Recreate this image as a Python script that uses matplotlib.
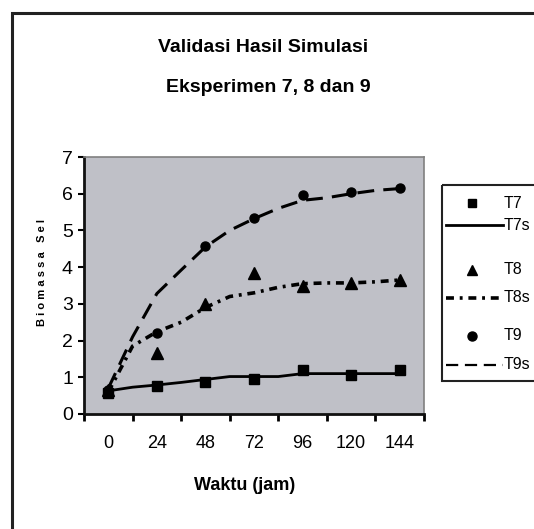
import matplotlib
matplotlib.use("Agg")
import matplotlib.pyplot as plt
from matplotlib.patches import Rectangle

FONT = "Liberation Sans"

# ---- data ----
hours_obs = [0, 24, 48, 72, 96, 120, 144]
hours_sim = [0, 12, 24, 36, 48, 60, 72, 84, 96, 108, 120, 132, 144]
t7 = [0.58, 0.77, 0.86, 0.95, 1.2, 1.05, 1.2]
t7s = [0.63, 0.73, 0.79, 0.86, 0.94, 1.02, 1.02, 1.02, 1.1, 1.1, 1.1, 1.1, 1.1]
t8 = [0.65, 1.65, 3.0, 3.83, 3.5, 3.57, 3.66]
t8s = [0.6, 1.85, 2.24, 2.5, 2.9, 3.2, 3.3, 3.45, 3.55, 3.57, 3.57, 3.6, 3.65]
t9 = [0.65, 2.21, 4.57, 5.34, 5.97, 6.05, 6.16]
t9s = [0.7, 2.1, 3.28, 3.92, 4.55, 5.0, 5.32, 5.6, 5.82, 5.89, 6.0, 6.09, 6.14]
xtick_labels = ["0", "24", "48", "72", "96", "120", "144"]
legend_labels = ["T7", "T7s", "T8", "T8s", "T9", "T9s"]

W, H = 534, 529
fig = plt.figure(figsize=(W / 100, H / 100), dpi=100)

def fx(px):
    return px / W

def fy(py):
    return 1 - py / H

fig.patches.append(Rectangle((fx(12), fy(560)), fx(600), fy(13) - fy(560),
                             transform=fig.transFigure, fill=False,
                             edgecolor="#222222", linewidth=2.2))

ax = fig.add_axes([fx(84), fy(414), fx(424) - fx(84), fy(157) - fy(414)])
ax.set_facecolor("#BFC0C7")

ls_t8s = (0, (2.2, 1.6, 0.8, 1.6))
ls_t9s = (0, (5.5, 3))

ax.plot(hours_sim, t7s, color="black", lw=2.0, ls="-", zorder=3)
ax.plot(hours_sim, t8s, color="black", lw=2.6, ls=ls_t8s, zorder=3)
ax.plot(hours_sim, t9s, color="black", lw=2.2, ls=ls_t9s, zorder=3)
ax.plot(hours_obs, t7, ls="none", marker="s", ms=6.5, color="black", zorder=4)
ax.plot(hours_obs, t8, ls="none", marker="^", ms=8, color="black", zorder=4)
ax.plot(hours_obs, t9, ls="none", marker="o", ms=6.5, color="black", zorder=4)

ax.set_xlim(-12, 156)
ax.set_ylim(0, 7)
ax.set_yticks(range(0, 8))
ax.set_yticklabels([str(i) for i in range(8)], fontfamily=FONT, fontsize=14)
ax.set_xticks(hours_obs)
ax.set_xticklabels(xtick_labels, fontfamily=FONT, fontsize=13)
ax.set_xticks(list(range(-12, 157, 24)), minor=True)
ax.tick_params(axis="x", which="major", length=0, pad=15)
ax.tick_params(axis="x", which="minor", length=5, width=2, direction="out", color="black")
ax.tick_params(axis="y", length=4, width=1.5, direction="out", pad=4)

for s in ["left", "bottom"]:
    ax.spines[s].set_color("#111111")
    ax.spines[s].set_linewidth(2)
for s in ["top", "right"]:
    ax.spines[s].set_color("#808080")
    ax.spines[s].set_linewidth(1.2)

fig.text(fx(263), fy(48), "Validasi Hasil Simulasi", ha="center", va="center",
         fontfamily=FONT, fontweight="bold", fontsize=14)
fig.text(fx(268), fy(87), "Eksperimen 7, 8 dan 9", ha="center", va="center",
         fontfamily=FONT, fontweight="bold", fontsize=14)
fig.text(fx(245), fy(485), "Waktu (jam)", ha="center", va="center",
         fontfamily=FONT, fontweight="bold", fontsize=13)
fig.text(fx(42), fy(273), "B i o m a s s a   S e l", ha="center", va="center",
         rotation=90, fontfamily=FONT, fontweight="bold", fontsize=8)

lax = fig.add_axes([fx(442), fy(381), fx(600) - fx(442), fy(185) - fy(381)])
lax.set_xlim(442, 600)
lax.set_ylim(381, 185)
lax.axis("off")
lax.add_patch(Rectangle((442, 185), 200, 196, fill=False, edgecolor="#222222", lw=1.5, clip_on=False))
items = [
    (203, dict(marker="s", ms=6, ls="none")),
    (225, dict(ls="-", lw=2.0)),
    (270, dict(marker="^", ms=7.5, ls="none")),
    (298, dict(ls=ls_t8s, lw=2.6)),
    (336, dict(marker="o", ms=6.5, ls="none")),
    (365, dict(ls=ls_t9s, lw=1.6)),
]
for (yy, kw), lab in zip(items, legend_labels):
    if "marker" in kw:
        lax.plot([472], [yy], color="black", **kw)
    else:
        lax.plot([446, 503], [yy, yy], color="black", **kw)
    lax.text(503.5, yy, lab, ha="left", va="center", fontfamily=FONT, fontsize=11.5)

fig.savefig("out.png", dpi=100)
